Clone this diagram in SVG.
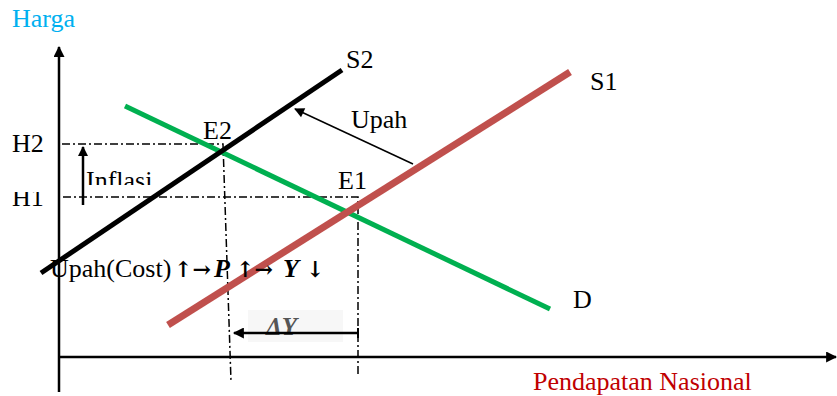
<svg xmlns="http://www.w3.org/2000/svg" width="837" height="396" viewBox="0 0 837 396">
<style>
text{font-family:"Liberation Serif","Times New Roman",serif;font-size:26px;fill:#000}
.dd{fill:none;stroke:#000;stroke-width:1.5;stroke-dasharray:8 3 2 3}
.ax{stroke:#000;stroke-width:2.5;fill:none}
.sym{font-family:"DejaVu Serif",serif;font-size:22px;font-weight:bold}
</style>
<defs>
<marker id="ah" viewBox="0 0 10 10" refX="9" refY="5" markerWidth="12" markerHeight="10" markerUnits="userSpaceOnUse" orient="auto"><path d="M0,0L10,5L0,10z" fill="#000"/></marker>
<marker id="ahb" viewBox="0 0 10 10" refX="9" refY="5" markerWidth="14" markerHeight="11" markerUnits="userSpaceOnUse" orient="auto"><path d="M0,0L10,5L0,10z" fill="#000"/></marker>
<clipPath id="clipH1"><rect x="0" y="192" width="60" height="30"/></clipPath>
<clipPath id="clipInf"><rect x="80" y="160" width="100" height="25"/></clipPath>
</defs>
<g id="axes">
<line class="ax" x1="59" y1="392" x2="59" y2="47" marker-end="url(#ahb)"/>
<line class="ax" x1="59" y1="357" x2="836" y2="357" marker-end="url(#ahb)"/>
<text x="12" y="27" style="fill:#00B0F0">Harga</text>
<text x="533" y="390" style="fill:#C00000">Pendapatan Nasional</text>
</g>
<g id="connectors">
<polyline class="dd" points="62,144 223,144 231,381"/>
<polyline class="dd" points="63,197 358,197 358,376"/>
<line x1="413" y1="164" x2="295" y2="109" stroke="#000" stroke-width="1.5" marker-end="url(#ah)"/>
<line x1="83" y1="205" x2="83" y2="147" stroke="#000" stroke-width="2.5" marker-end="url(#ah)"/>
<rect x="248" y="310" width="95" height="32" fill="#f7f7f7"/>
<text x="266" y="335" style="font-style:italic;font-weight:bold;fill:#555;font-size:25px">ΔY</text>
<line x1="358" y1="333" x2="234" y2="333" stroke="#000" stroke-width="2.5" marker-end="url(#ahb)"/>
<line x1="358" y1="328" x2="358" y2="338" stroke="#000" stroke-width="2"/>
</g>
<g id="curve-D">
<line x1="125" y1="106" x2="550" y2="309" stroke="#00B050" stroke-width="5"/>
<text x="573" y="308">D</text>
</g>
<g id="curve-S1">
<line x1="168" y1="325" x2="570" y2="72" stroke="#C0504D" stroke-width="7"/>
<text x="590" y="90">S1</text>
</g>
<g id="curve-S2">
<line x1="41" y1="273" x2="342" y2="70" stroke="#000" stroke-width="5"/>
<text x="346" y="68">S2</text>
</g>
<g id="labels">
<text x="12" y="152">H2</text>
<text x="12" y="206" clip-path="url(#clipH1)">H1</text>
<text x="86" y="189" clip-path="url(#clipInf)">Inflasi</text>
<text x="203" y="139">E2</text>
<text x="338" y="189">E1</text>
<text x="351" y="128">Upah</text>
<text x="50" y="277">Upah(Cost)<tspan x="174" class="sym">↑→</tspan><tspan x="214" style="font-style:italic;font-weight:bold">P</tspan><tspan x="236" class="sym">↑→</tspan><tspan x="283" style="font-style:italic;font-weight:bold">Y</tspan><tspan x="306" class="sym">↓</tspan></text>
</g>
</svg>
